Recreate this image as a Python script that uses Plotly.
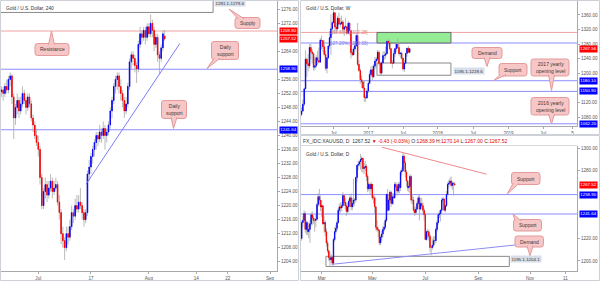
import plotly.graph_objects as go

W, H = 600, 282
FONT = "Liberation Sans, Arial, sans-serif"
UP, DN, WICK = "#0000ff", "#ff0000", "#a8a8a8"
AX, TXT = "#a9a9a9", "#555555"
BLUE_LN, PINK_LN = "#8c8cff", "#f2a3a3"
CALL_FILL, CALL_LINE = "#f7c6c6", "#e39a9a"

# ------------------------------------------------------------------ data
# 4-hour chart: trading day 0 = 3 Jul 2017, three bars per day, (open, high, low, close)
h4_first_day = -7
h4_bars_per_day = 3
h4_bars = [
    (1252.5, 1254, 1251, 1253), (1253, 1254, 1250, 1252), (1252, 1255, 1251, 1254),
    (1254, 1256, 1252, 1253), (1253, 1257, 1252, 1256), (1256, 1258, 1254, 1257),
    (1257, 1257.5, 1249, 1251), (1251, 1252, 1239, 1245), (1245, 1249, 1243, 1248),
    (1248, 1252, 1246, 1250), (1250, 1251, 1245, 1247), (1247, 1251, 1246, 1249),
    (1249, 1254, 1248, 1252), (1252, 1253, 1249, 1250), (1250, 1251, 1246, 1248),
    (1248, 1252, 1247, 1251), (1251, 1252, 1248, 1249), (1249, 1250, 1244, 1245),
    (1245, 1246, 1241, 1243), (1243, 1244, 1239, 1240), (1240, 1242, 1237, 1238),
    (1238, 1240, 1234, 1236), (1236, 1237, 1226, 1228), (1228, 1229, 1219, 1220),
    (1220, 1225, 1219, 1224), (1224, 1228, 1222, 1226), (1226, 1227, 1221, 1223),
    (1223, 1227, 1222, 1225), (1225, 1229, 1224, 1227), (1227, 1228, 1222, 1224),
    (1224, 1227, 1223, 1225), (1225, 1228, 1224, 1226), (1226, 1227, 1220, 1221),
    (1221, 1223, 1216, 1218), (1218, 1219, 1209, 1212), (1212, 1214, 1208, 1210),
    (1210, 1211, 1204.5, 1208), (1208, 1214, 1207, 1212), (1212, 1214, 1209, 1211),
    (1211, 1216, 1210, 1214), (1214, 1220, 1213, 1218), (1218, 1219, 1215, 1217),
    (1217, 1222, 1216, 1220), (1220, 1223, 1218, 1219), (1219, 1223, 1218, 1221),
    (1221, 1225, 1219, 1220), (1220, 1221, 1216, 1218), (1218, 1219, 1214, 1216),
    (1216, 1219, 1215, 1218), (1218, 1230, 1217, 1229), (1229, 1233, 1227, 1231),
    (1231, 1235, 1229, 1234), (1234, 1237, 1232, 1236), (1236, 1239, 1234, 1238),
    (1238, 1241, 1236, 1240), (1240, 1241, 1237, 1239), (1239, 1243, 1238, 1241),
    (1241, 1242, 1238, 1240), (1240, 1244, 1239, 1242), (1242, 1243, 1236, 1240),
    (1240, 1242, 1238, 1241), (1241, 1244, 1240, 1243), (1243, 1248, 1242, 1247),
    (1247, 1251, 1245, 1250), (1250, 1255, 1249, 1254), (1254, 1257, 1252, 1256),
    (1256, 1258, 1253, 1257), (1257, 1258, 1252, 1254), (1254, 1256, 1250, 1252),
    (1252, 1253, 1248, 1250), (1250, 1251, 1245, 1247), (1247, 1251, 1246, 1249),
    (1249, 1255, 1248, 1254), (1254, 1262, 1253, 1261), (1261, 1264, 1259, 1263),
    (1263, 1264, 1260, 1262), (1262, 1263, 1258, 1260), (1260, 1261, 1255, 1259),
    (1259, 1267, 1258, 1266), (1266, 1271, 1265, 1269), (1269, 1270, 1266, 1268),
    (1268, 1271, 1267, 1270), (1270, 1271, 1266, 1268), (1268, 1272, 1267, 1271),
    (1271, 1272, 1268, 1269), (1269, 1274.5, 1268, 1272), (1272, 1273, 1268, 1270),
    (1270, 1271, 1264, 1266), (1266, 1269, 1265, 1268), (1268, 1269, 1261, 1263),
    (1263, 1264, 1257.5, 1262), (1262, 1266, 1261, 1265), (1265, 1270, 1264, 1269),
    (1268.4, 1270.1, 1267, 1267.52),
]
h4_tick_days = [0, 10, 21, 30, 36, 44]
h4_tick_text = ["Jul", "17", "Aug", "14", "22", "Sep"]
h4_price_ticks = [1204, 1208, 1212, 1216, 1220, 1224, 1228, 1232, 1236, 1240, 1244,
                  1248, 1252, 1256, 1264, 1272, 1276]
h4_resistance = 1269.80
h4_supports = [1258.90, 1241.64]
h4_last = 1267.52
h4_supply_text = "1281.1-1279.4"
h4_trend_days = [9.06, 26.9]
h4_trend_prices = [1226.1, 1266.3]

# weekly chart: week 0 = 2 Jan 2017
weekly_first_week = -50
weekly_bars = [
    (1088, 1107, 1083, 1097), (1097, 1128, 1096, 1116), (1116, 1161, 1111, 1158),
    (1158, 1263, 1157, 1239), (1239, 1243, 1191, 1227), (1227, 1253, 1206, 1221),
    (1221, 1280, 1214, 1271), (1271, 1282, 1238, 1259), (1259, 1267, 1227, 1254),
    (1254, 1255, 1208, 1217), (1217, 1245, 1208, 1221), (1221, 1250, 1215, 1243),
    (1243, 1262, 1224, 1235), (1235, 1271, 1227, 1231), (1231, 1297, 1230, 1291),
    (1291, 1304, 1266, 1290), (1290, 1290, 1260, 1273), (1273, 1291, 1248, 1252),
    (1252, 1262, 1208, 1214), (1214, 1245, 1200, 1243), (1243, 1278, 1239, 1275),
    (1275, 1316, 1267, 1298), (1298, 1362, 1251, 1322), (1322, 1343, 1306, 1339),
    (1339, 1375, 1337, 1366), (1366, 1368, 1310, 1327), (1327, 1339, 1310, 1322),
    (1322, 1358, 1314, 1351), (1351, 1367, 1333, 1335), (1335, 1353, 1326, 1336),
    (1336, 1358, 1333, 1341), (1341, 1346, 1312, 1321), (1321, 1331, 1302, 1327),
    (1327, 1352, 1322, 1328), (1328, 1330, 1306, 1310), (1310, 1344, 1310, 1338),
    (1338, 1339, 1306, 1317), (1317, 1320, 1241, 1257), (1257, 1267, 1247, 1251),
    (1251, 1273, 1250, 1267), (1267, 1284, 1260, 1276), (1276, 1307, 1273, 1304),
    (1304, 1338, 1220, 1225), (1225, 1236, 1204, 1208), (1208, 1214, 1171, 1183),
    (1183, 1194, 1160, 1177), (1177, 1181, 1158, 1160), (1160, 1179, 1122, 1134),
    (1134, 1140, 1122, 1133), (1133, 1159, 1130, 1152), (1152, 1182, 1147, 1173),
    (1173, 1207, 1172, 1197), (1197, 1220, 1195, 1210), (1210, 1221, 1181, 1191),
    (1191, 1226, 1187, 1220), (1220, 1245, 1211, 1234), (1234, 1245, 1216, 1239),
    (1239, 1264, 1232, 1258), (1258, 1264, 1222, 1227), (1227, 1232, 1195, 1201),
    (1201, 1233, 1196, 1229), (1229, 1261, 1229, 1249), (1249, 1260, 1237, 1250),
    (1250, 1274, 1240, 1254), (1254, 1290, 1253, 1288), (1288, 1295, 1276, 1284),
    (1284, 1292, 1264, 1268), (1268, 1268, 1227, 1228), (1228, 1236, 1214, 1228),
    (1228, 1263, 1226, 1254), (1254, 1270, 1245, 1268), (1268, 1283, 1259, 1280),
    (1280, 1296, 1266, 1271), (1271, 1281, 1249, 1254), (1254, 1259, 1241, 1256),
    (1256, 1260, 1236, 1242), (1242, 1243, 1208, 1212), (1212, 1236, 1204, 1228),
    (1228, 1256, 1227, 1255), (1255, 1270, 1246, 1269), (1269, 1275, 1257, 1258),
    (1258, 1270, 1255, 1267.56),
]
weekly_tick_weeks = [-26, 0, 26, 52, 78.5, 105, 131, 153]
weekly_tick_text = ["Jul", "2017", "Jul", "2018", "Jul", "2019", "Jul", "5"]
weekly_price_ticks = [1080, 1120, 1200, 1240, 1280, 1320, 1360]
weekly_fib_levels = [1312.28, 1283.33]
weekly_fib_text = ["161.80%(1312.28)", "127.20%(1283.33)"]
weekly_demand = [1195.1, 1228.6]
weekly_levels = [1180.10, 1150.90, 1062.20]
weekly_last = 1267.56

# daily chart: trading day 0 = 1 Mar 2017
daily_first_day = -17
daily_bars = [
    (1220, 1236, 1218, 1234), (1234, 1240, 1230, 1236), (1236, 1245, 1234, 1242),
    (1242, 1244, 1225, 1228), (1228, 1236, 1223, 1234), (1234, 1235, 1223, 1226),
    (1226, 1232, 1220, 1228), (1228, 1236, 1216, 1233), (1233, 1243, 1231, 1241),
    (1241, 1244, 1232, 1238), (1238, 1240, 1233, 1236), (1236, 1238, 1226, 1236),
    (1236, 1241, 1230, 1237), (1237, 1252, 1236, 1250), (1250, 1260, 1248, 1257),
    (1257, 1264, 1250, 1254), (1254, 1258, 1244, 1248), (1248, 1254, 1239, 1249),
    (1249, 1250, 1232, 1233), (1233, 1240, 1225, 1234), (1234, 1236, 1222, 1226),
    (1226, 1229, 1213, 1216), (1216, 1218, 1207, 1209), (1209, 1210, 1200, 1203),
    (1203, 1208, 1195, 1201), (1201, 1206, 1198, 1203), (1203, 1204, 1196, 1198),
    (1198, 1221, 1196, 1219), (1219, 1230, 1217, 1226), (1226, 1232, 1224, 1229),
    (1229, 1236, 1227, 1234), (1234, 1247, 1233, 1245), (1245, 1251, 1242, 1248),
    (1248, 1252, 1243, 1247), (1247, 1252, 1244, 1249), (1249, 1261, 1248, 1258),
    (1258, 1259, 1249, 1252), (1252, 1256, 1246, 1249), (1249, 1252, 1240, 1244),
    (1244, 1252, 1242, 1248), (1248, 1255, 1243, 1253), (1253, 1258, 1248, 1256),
    (1256, 1260, 1245, 1248), (1248, 1256, 1245, 1251), (1251, 1273, 1248, 1254),
    (1254, 1256, 1249, 1254), (1254, 1275, 1252, 1274), (1274, 1285, 1270, 1285),
    (1285, 1289, 1281, 1286), (1286, 1289, 1284, 1288), (1288, 1295, 1281, 1290),
    (1290, 1293, 1279, 1291), (1291, 1292, 1278, 1282), (1282, 1287, 1277, 1283),
    (1283, 1289, 1280, 1284), (1284, 1286, 1271, 1275), (1275, 1277, 1261, 1264),
    (1264, 1270, 1262, 1268), (1268, 1269, 1259, 1264), (1264, 1270, 1262, 1268),
    (1268, 1268, 1254, 1256), (1256, 1259, 1251, 1256), (1256, 1258, 1242, 1248),
    (1248, 1249, 1227, 1230), (1230, 1236, 1226, 1228), (1228, 1230, 1221, 1227),
    (1227, 1228, 1214, 1216), (1216, 1223, 1214, 1221), (1221, 1227, 1218, 1224),
    (1224, 1231, 1221, 1228), (1228, 1234, 1226, 1230), (1230, 1238, 1228, 1236),
    (1236, 1260, 1234, 1259), (1259, 1264, 1244, 1245), (1245, 1256, 1244, 1254),
    (1254, 1263, 1253, 1261), (1261, 1262, 1248, 1251), (1251, 1260, 1250, 1257),
    (1257, 1260, 1250, 1256), (1256, 1270, 1255, 1268), (1268, 1270, 1264, 1266),
    (1266, 1268, 1258, 1262), (1262, 1270, 1260, 1268), (1268, 1270, 1260, 1265),
    (1265, 1281, 1262, 1279), (1279, 1283, 1276, 1280), (1280, 1296, 1279, 1293),
    (1293, 1295, 1282, 1287), (1287, 1289, 1274, 1279), (1279, 1281, 1266, 1271),
    (1271, 1272, 1262, 1265), (1265, 1269, 1261, 1266), (1266, 1277, 1260, 1275),
    (1275, 1276, 1251, 1254), (1254, 1258, 1250, 1254), (1254, 1257, 1243, 1245),
    (1245, 1248, 1240, 1243), (1243, 1249, 1241, 1246), (1246, 1253, 1245, 1251),
    (1251, 1258, 1250, 1256), (1256, 1259, 1236, 1246), (1246, 1256, 1245, 1251),
    (1251, 1256, 1248, 1249), (1249, 1252, 1242, 1245), (1245, 1247, 1236, 1241),
    (1241, 1243, 1219, 1219), (1219, 1227, 1218, 1226), (1226, 1228, 1220, 1226),
    (1226, 1228, 1218, 1222), (1222, 1224, 1208, 1212), (1212, 1214, 1205, 1212),
    (1212, 1220, 1210, 1214), (1214, 1222, 1212, 1218), (1218, 1222, 1214, 1218),
    (1218, 1230, 1216, 1228), (1228, 1236, 1226, 1234), (1234, 1243, 1232, 1241),
    (1241, 1245, 1238, 1242), (1242, 1246, 1235, 1245), (1245, 1256, 1243, 1254),
    (1254, 1257, 1252, 1255), (1255, 1256, 1244, 1245), (1245, 1250, 1243, 1249),
    (1249, 1262, 1248, 1259), (1259, 1270, 1258, 1268), (1268, 1272, 1265, 1269),
    (1269, 1274, 1267, 1271), (1271, 1275, 1265, 1267), (1267, 1271, 1263, 1269),
    (1269, 1270, 1258, 1268.39), (1268.39, 1270.14, 1267.00, 1267.52),
]
daily_tick_days = [0, 43, 88, 133, 177, 207]
daily_tick_text = ["Mar", "May", "Jul", "Sep", "Nov", "11"]
daily_price_ticks = [1200, 1220, 1280, 1300]
daily_supports = [1258.90, 1241.64]
daily_demand = [1195.1, 1204.1]
daily_last = 1267.52
daily_down_trend_days = [51, 140]
daily_down_trend_prices = [1301.0, 1277.0]
daily_up_trend_days = [8.5, 170]
daily_up_trend_prices = [1197.0, 1214.8]
daily_header = ("FX_IDC:XAUUSD, D  1267.52 <span style='color:#e00000'>▼ -0.43 (-0.03%)</span> "
                "O:<span style='color:#e00000'>1268.39</span> H:<span style='color:#e00000'>1270.14</span> "
                "L:<span style='color:#e00000'>1267.00</span> C:<span style='color:#e00000'>1267.52</span>")


# ------------------------------------------------------------------ helpers
def px(x):
    return x / W


def py(y):
    return 1 - y / H


fig = go.Figure()


def add_candles(bars, first, step, xa, ya):
    xs = [first + i * step for i in range(len(bars))]
    o = [b[0] for b in bars]
    hi = [b[1] for b in bars]
    lo = [b[2] for b in bars]
    c = [b[3] for b in bars]
    fig.add_trace(go.Candlestick(
        x=xs, open=o, high=hi, low=lo, close=c, xaxis=xa, yaxis=ya,
        increasing=dict(line=dict(color=WICK, width=0.8), fillcolor=WICK),
        decreasing=dict(line=dict(color=WICK, width=0.8), fillcolor=WICK),
        whiskerwidth=0, hoverinfo="skip", showlegend=False))
    top = [max(a, b) for a, b in zip(o, c)]
    bot = [min(a, b) for a, b in zip(o, c)]
    fig.add_trace(go.Candlestick(
        x=xs, open=o, high=top, low=bot, close=c, xaxis=xa, yaxis=ya,
        increasing=dict(line=dict(color=UP, width=0.8), fillcolor=UP),
        decreasing=dict(line=dict(color=DN, width=0.8), fillcolor=DN),
        whiskerwidth=0, hoverinfo="skip", showlegend=False))


add_candles(h4_bars, h4_first_day, 1 / h4_bars_per_day, "x", "y")
add_candles(weekly_bars, weekly_first_week, 1, "x2", "y2")
add_candles(daily_bars, daily_first_day, 1, "x3", "y3")


def xcfg(dom, rng, tv, tt, anchor):
    return dict(domain=dom, range=rng, tickvals=tv, ticktext=tt, ticks="outside", ticklen=2,
                tickcolor=AX, tickfont=dict(size=4.6, color=TXT, family=FONT), showline=True,
                linecolor=AX, linewidth=1, showgrid=False, zeroline=False,
                rangeslider=dict(visible=False), anchor=anchor, fixedrange=True)


def ycfg(dom, rng, tv, anchor):
    return dict(domain=dom, range=rng, side="right", anchor=anchor, tickformat=".2f",
                tickvals=tv, ticks="outside", ticklen=2, tickcolor=AX,
                tickfont=dict(size=4.6, color=TXT, family=FONT), showline=True, linecolor=AX,
                linewidth=1, showgrid=False, zeroline=False, fixedrange=True)


fig.update_layout(
    width=W, height=H, margin=dict(l=0, r=0, t=0, b=0), autosize=False,
    paper_bgcolor="white", plot_bgcolor="rgba(0,0,0,0)", showlegend=False,
    hovermode=False, font=dict(family=FONT), boxgap=0.55,
    xaxis=xcfg([px(1), px(277)], [-7.08, 45.33], h4_tick_days, h4_tick_text, "y"),
    yaxis=ycfg([py(271), 1.0], [1201.35, 1278.65], h4_price_ticks, "x"),
    xaxis2=xcfg([px(301), px(577)], [-50.4, 156.3], weekly_tick_weeks, weekly_tick_text, "y2"),
    yaxis2=ycfg([py(126), py(1)], [1056.2, 1398.3], weekly_price_ticks, "x2"),
    xaxis3=xcfg([px(301), px(577)], [-17.6, 216.9], daily_tick_days, daily_tick_text, "y3"),
    yaxis3=ycfg([py(271), py(146)], [1191.1, 1302.0], daily_price_ticks, "x3"),
)

shapes = []
ann = []


def hline(val, ax, color):
    shapes.append(dict(type="line", xref=f"x{ax} domain", yref=f"y{ax}", x0=0, x1=1,
                       y0=val, y1=val, line=dict(color=color, width=1), layer="below"))


# ---- left (4h) panel
hline(h4_resistance, "", PINK_LN)
for v in h4_supports:
    hline(v, "", BLUE_LN)
shapes.append(dict(type="rect", xref="x", yref="y", x0=-8, x1=33.2, y0=1275.1, y1=1290,
                   fillcolor="white", line=dict(color="#8a8a8a", width=1), layer="below"))
shapes.append(dict(type="line", xref="x", yref="y", x0=h4_trend_days[0], x1=h4_trend_days[1],
                   y0=h4_trend_prices[0], y1=h4_trend_prices[1],
                   line=dict(color="#7c7cf5", width=1)))

# ---- weekly panel
shapes.append(dict(type="rect", xref="x2", yref="y2", x0=6.5, x1=61.9,
                   y0=weekly_fib_levels[1], y1=weekly_fib_levels[0],
                   fillcolor="#94ec94", line=dict(color="#6a6a6a", width=1), layer="below"))
shapes.append(dict(type="rect", xref="x2", yref="y2", x0=6.5, x1=61.9,
                   y0=weekly_demand[0], y1=weekly_demand[1],
                   fillcolor="white", line=dict(color="#8a8a8a", width=1), layer="below"))
hline(weekly_fib_levels[0], "2", PINK_LN)
hline(weekly_fib_levels[1], "2", BLUE_LN)
for v in weekly_levels:
    hline(v, "2", BLUE_LN)

# ---- daily panel
for v in daily_supports:
    hline(v, "3", BLUE_LN)
shapes.append(dict(type="rect", xref="x3", yref="y3", x0=3.6, x1=159.4,
                   y0=daily_demand[0], y1=daily_demand[1],
                   fillcolor="white", line=dict(color="#8a8a8a", width=1), layer="below"))
shapes.append(dict(type="line", xref="x3", yref="y3", x0=daily_down_trend_days[0],
                   x1=daily_down_trend_days[1], y0=daily_down_trend_prices[0],
                   y1=daily_down_trend_prices[1], line=dict(color="#f08a8a", width=1)))
shapes.append(dict(type="line", xref="x3", yref="y3", x0=daily_up_trend_days[0],
                   x1=daily_up_trend_days[1], y0=daily_up_trend_prices[0],
                   y1=daily_up_trend_prices[1], line=dict(color="#8c8cf5", width=1)))

# ---- panel frames
for (x0, y0, x1, y1) in [(0.5, 0.5, 298.5, 280.5), (300.5, 0.5, 599.5, 134.5),
                         (300.5, 135.5, 599.5, 280.5)]:
    shapes.append(dict(type="rect", xref="paper", yref="paper", x0=px(x0), x1=px(x1),
                       y0=py(y1), y1=py(y0), line=dict(color="#cdd0d6", width=1)))
shapes.append(dict(type="line", xref="paper", yref="paper", x0=px(300.5), x1=px(577),
                   y0=py(145.5), y1=py(145.5), line=dict(color="#d5d8dd", width=1)))


# ---- callouts (pixel geometry)
def P(x, y):
    return f"{px(x):.5f},{py(y):.5f}"


def callout(text, box, tip, bx, edge):
    x0, y0, x1, y1 = box
    r = 2.5
    path = (f"M{P(x0 + r, y0)} L{P(x1 - r, y0)} Q{P(x1, y0)} {P(x1, y0 + r)} "
            f"L{P(x1, y1 - r)} Q{P(x1, y1)} {P(x1 - r, y1)} L{P(x0 + r, y1)} "
            f"Q{P(x0, y1)} {P(x0, y1 - r)} L{P(x0, y0 + r)} Q{P(x0, y0)} {P(x0 + r, y0)} Z")
    shapes.append(dict(type="path", xref="paper", yref="paper", path=path,
                       fillcolor=CALL_FILL, line=dict(color=CALL_LINE, width=1)))
    ey = y0 + 1.2 if edge == "top" else y1 - 1.2
    tri = f"M{P(bx - 3, ey)} L{P(tip[0], tip[1])} L{P(bx + 3, ey)}"
    shapes.append(dict(type="path", xref="paper", yref="paper", path=tri,
                       fillcolor=CALL_FILL, line=dict(color=CALL_LINE, width=1)))
    ann.append(dict(xref="paper", yref="paper", x=px((x0 + x1) / 2), y=py((y0 + y1) / 2),
                    text=text, showarrow=False, xanchor="center", yanchor="middle",
                    font=dict(size=5, color="#3a3a3a", family=FONT)))


callout("Resistance", (35, 43.5, 69, 55.5), (51.5, 31), 51.5, "top")
callout("Supply", (235, 17.5, 260, 28.5), (229, 9), 241, "top")
callout("Daily<br>support", (211.5, 41.5, 238.5, 59.5), (207, 68.5), 217, "bottom")
callout("Daily<br>support", (161.5, 100.5, 186.5, 118.5), (173.5, 128.5), 174, "bottom")
callout("Demand", (472, 47.5, 502, 58.5), (487, 66.5), 487, "bottom")
callout("Support", (499, 63.5, 527, 76), (494, 80.3), 503, "bottom")
callout("2017 yearly<br>opening level", (531, 59, 569, 76), (551.5, 90.5), 551.5, "bottom")
callout("2016 yearly<br>opening level", (531, 97.5, 569, 115), (551.5, 124), 551.5, "bottom")
callout("Support", (511.5, 172.5, 540, 184.5), (507, 194.3), 516, "bottom")
callout("Support", (513.5, 219.5, 541.5, 231), (513, 214), 518, "top")
callout("Demand", (515, 236, 543.5, 247), (530, 256), 530, "bottom")


# ---- price labels on axes
def price_label(val, yref, xpix, color):
    ann.append(dict(xref="paper", yref=yref, x=px(xpix), y=val, text=f"{val:.2f}",
                    showarrow=False, xanchor="left", yanchor="middle", bgcolor=color,
                    borderpad=0.3, font=dict(size=4.4, color="white", family=FONT)))


price_label(h4_resistance, "y", 278.5, DN)
price_label(h4_last, "y", 278.5, DN)
for v in h4_supports:
    price_label(v, "y", 278.5, UP)
price_label(weekly_last, "y2", 579, DN)
for v in weekly_levels:
    price_label(v, "y2", 579, UP)
price_label(daily_last, "y3", 579, DN)
for v in daily_supports:
    price_label(v, "y3", 579, UP)

# fib texts
for v, t, col in zip(weekly_fib_levels, weekly_fib_text, ["#e07a7a", "#7a7ae8"]):
    ann.append(dict(xref="paper", yref="y2", x=px(370), y=v, text=t, showarrow=False,
                    xanchor="right", yanchor="middle",
                    font=dict(size=4.6, color=col, family=FONT)))

# zone labels
ann.append(dict(xref="paper", yref="paper", x=px(213.5), y=py(3.4), text=h4_supply_text,
                showarrow=False, xanchor="left", yanchor="middle", bgcolor="#d8dee9",
                borderpad=0.6, font=dict(size=4.4, color="#333", family=FONT)))
ann.append(dict(xref="paper", yref="paper", x=px(453), y=py(71),
                text=f"{weekly_demand[0]}-{weekly_demand[1]}",
                showarrow=False, xanchor="left", yanchor="middle", bgcolor="#d8dee9",
                borderpad=0.6, font=dict(size=4.4, color="#333", family=FONT)))
ann.append(dict(xref="paper", yref="paper", x=px(510), y=py(258.5),
                text=f"{daily_demand[0]}-{daily_demand[1]}",
                showarrow=False, xanchor="left", yanchor="middle", bgcolor="#d8dee9",
                borderpad=0.6, font=dict(size=4.4, color="#333", family=FONT)))

# titles
for x, y, t in [(4, 8, "Gold / U.S. Dollar, 240"), (304, 8, "Gold / U.S. Dollar, W"),
                (304, 154, "Gold / U.S. Dollar, D")]:
    ann.append(dict(xref="paper", yref="paper", x=px(x), y=py(y), text=t, showarrow=False,
                    xanchor="left", yanchor="middle",
                    font=dict(size=4.8, color="#333", family=FONT)))
ann.append(dict(xref="paper", yref="paper", x=px(301), y=py(141), text=daily_header,
                showarrow=False, xanchor="left", yanchor="middle",
                font=dict(size=5, color="#333", family=FONT)))

fig.update_layout(shapes=shapes, annotations=ann)
fig.write_html("out.html", config={"displayModeBar": False})
